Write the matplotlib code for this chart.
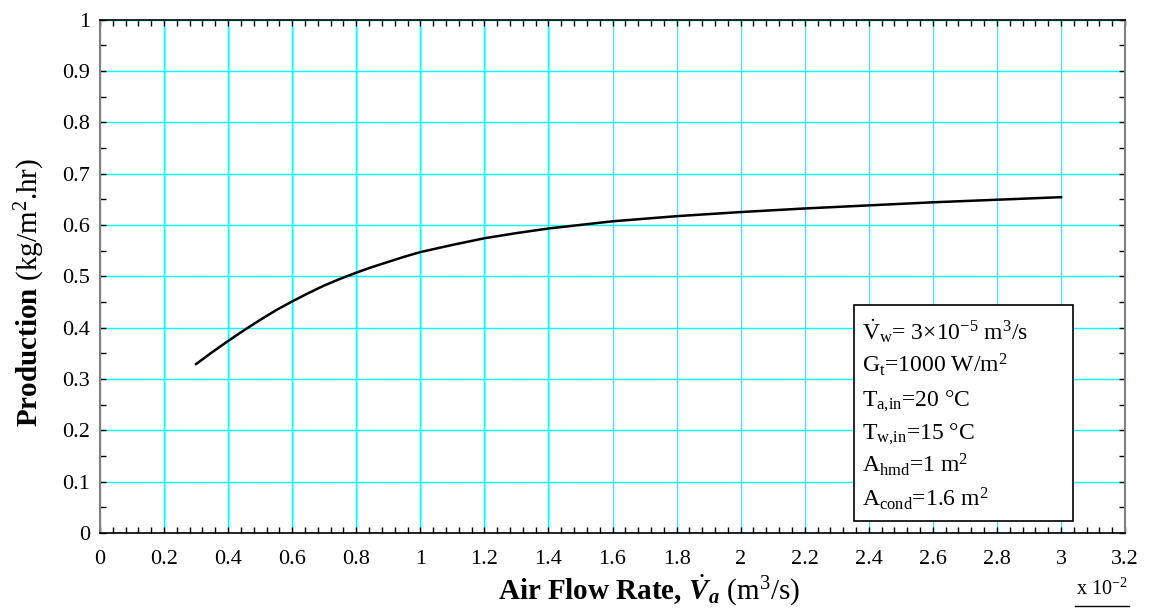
import matplotlib
matplotlib.use("Agg")
import matplotlib.pyplot as plt
from matplotlib.lines import Line2D
from matplotlib.patches import Rectangle
from matplotlib.ticker import MultipleLocator, FuncFormatter

plt.rcParams['font.family'] = ['Liberation Serif', 'DejaVu Serif']
plt.rcParams['mathtext.fontset'] = 'custom'
plt.rcParams['mathtext.rm'] = 'Liberation Serif'
plt.rcParams['mathtext.it'] = 'Liberation Serif:italic'
plt.rcParams['mathtext.bf'] = 'Liberation Serif:bold'
plt.rcParams['mathtext.bfit'] = 'Liberation Serif:bold:italic'

# air flow rate (x 10^-2 m3/s) and production (kg/m2.hr)
air_flow = [0.3, 0.35, 0.4, 0.45, 0.5, 0.55, 0.6, 0.65, 0.7, 0.75, 0.8, 0.85,
            0.9, 0.95, 1.0, 1.1, 1.2, 1.3, 1.4, 1.5, 1.6, 1.8, 2.0, 2.2, 2.4,
            2.6, 2.8, 3.0]
production = [0.329, 0.352, 0.374, 0.395, 0.415, 0.434, 0.451, 0.467, 0.482,
              0.495, 0.507, 0.518, 0.528, 0.538, 0.547, 0.561, 0.574, 0.584,
              0.593, 0.600, 0.607, 0.617, 0.625, 0.632, 0.638, 0.644, 0.649,
              0.654]

box_lines = [
    r"$\dot{\mathrm{V}}_{\mathrm{w}}$= 3×10$^{-5}$ m$^3$/s",
    r"G$_{\mathrm{t}}$=1000 W/m$^2$",
    r"T$_{\mathrm{a{,}in}}$=20 °C",
    r"T$_{\mathrm{w{,}in}}$=15 °C",
    r"A$_{\mathrm{hmd}}$=1 m$^2$",
    r"A$_{\mathrm{cond}}$=1.6 m$^2$",
]

fig = plt.figure(figsize=(11.52, 6.08), dpi=100)
ax = fig.add_axes([0.0868, 0.1234, 0.8898, 0.8445])

ax.plot(air_flow, production, color="black", lw=1.8, zorder=3)

ax.set_xlim(0, 3.2)
ax.set_ylim(0, 1)
ax.xaxis.set_major_locator(MultipleLocator(0.2))
ax.xaxis.set_minor_locator(MultipleLocator(0.04))
ax.yaxis.set_major_locator(MultipleLocator(0.1))
ax.yaxis.set_minor_locator(MultipleLocator(0.05))
fmt = FuncFormatter(lambda v, p: f"{round(v, 2):g}")
ax.xaxis.set_major_formatter(fmt)
ax.yaxis.set_major_formatter(fmt)
ax.tick_params(which='both', direction='in', top=True, right=True,
               length=4, width=1, labelsize=16)
ax.tick_params(axis='x', pad=12)
ax.tick_params(axis='y', pad=7)
ax.grid(True, which='major', color="#00FFFF", lw=1.0, zorder=0)
ax.set_axisbelow(True)

for s in ['left', 'right']:
    ax.spines[s].set_color("#808080")
    ax.spines[s].set_linewidth(1.5)
for s in ['top', 'bottom']:
    ax.spines[s].set_color("black")
    ax.spines[s].set_linewidth(1.2)

ax.set_ylabel(r"$\mathbf{Production}$ (kg/m$^2$.hr)", fontsize=21)
ax.yaxis.set_label_coords(-0.052, 0.468)
ax.set_xlabel(r"$\mathbf{Air\ Flow\ Rate,}\,\dot{\mathbfit{V}}_{\mathbfit{a}}$ (m$^3$/s)",
              fontsize=21)
ax.xaxis.set_label_coords(0.5356, -0.078)

# parameter box
ax.add_patch(Rectangle((0.7356, 0.0234), 0.2134, 0.4206, transform=ax.transAxes,
                       fc='white', ec='black', lw=1.2, zorder=5))
for i, line in enumerate(box_lines):
    ax.text(0.743, 0.3773 - i * 0.0649, line, transform=ax.transAxes,
            fontsize=17, va='baseline', ha='left', zorder=6)

# axis multiplier
fig.text(0.9566, 0.0214, r"x 10$^{-2}$", fontsize=14.5, ha='center', va='baseline')
fig.add_artist(Line2D([0.933, 0.980], [0.004, 0.004], color='black', lw=1))

fig.savefig("out.png", dpi=100)
